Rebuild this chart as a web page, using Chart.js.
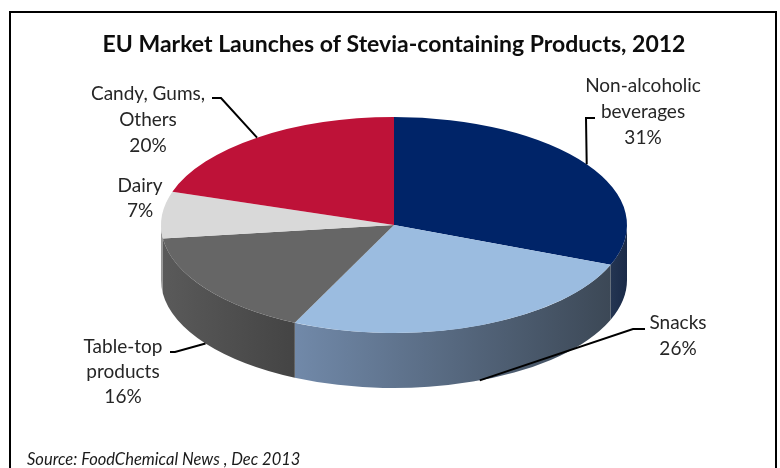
<!DOCTYPE html>
<html>
<head>
<meta charset="utf-8">
<script src="https://cdn.jsdelivr.net/npm/chart.js@4.4.1/dist/chart.umd.min.js"></script>
<style>
  body { margin: 0; background: #fff; }
  #frame { position: absolute; left: 9px; top: 11px; width: 764px; height: 480px; border: 2px solid #000; }
  #wrap { position: absolute; left: 0; top: 0; width: 780px; height: 468px; }
</style>
</head>
<body>
<div id="frame"></div>
<div id="wrap"><canvas id="pie"></canvas></div>
<script>
// data
const categories = ["Non-alcoholic beverages", "Snacks", "Table-top products", "Dairy", "Candy, Gums, Others"];
const shares = [31, 26, 16, 7, 20];
const labelLines = [["Non-alcoholic", "beverages"], ["Snacks"], ["Table-top", "products"], ["Dairy"], ["Candy, Gums,", "Others"]];

// colours of the top face and of the side wall (left, right)
const topColors = ["#002468", "#9bbce0", "#666666", "#d9d9d9", "#be1238"];
const sideColors = [["#243552", "#1a2a48"], ["#7189a9", "#3c4856"], ["#5a5a5a", "#444444"], ["#9a9a9a", "#8a8a8a"], ["#8c0d29", "#8c0d29"]];

// where the flattened pie sits on the page
const geo = { cx: 394, cy: 225, rx: 233, ry: 108, depth: 55 };

// label layout: text centre x, baselines, leader line (elbow, end), edge = 'top' or 'bottom'
const labelLayout = [
  { x: 643, y: [92, 118, 144], elbow: [586, 118], end: [595, 118], edge: "top" },
  { x: 678, y: [329, 355], elbow: [633, 329], end: [645, 329], edge: "bottom" },
  { x: 123, y: [353, 378, 403], elbow: [175, 352], end: [170, 352], edge: "bottom" },
  { x: 140, y: [192, 217], elbow: null },
  { x: 148, y: [100, 126, 152], elbow: [221, 98], end: [212, 98], edge: "top" }
];

const FONT = "Lato, 'Liberation Sans', sans-serif";

const pie3d = {
  id: "pie3d",
  beforeDatasetsDraw(chart) {
    const ctx = chart.ctx;
    const arcs = chart.getDatasetMeta(0).data;
    const { cx, cy, rx, ry, depth } = geo;
    // side wall, only the front half can be seen
    arcs.forEach((arc, i) => {
      const s = Math.max(arc.startAngle, 0);
      const e = Math.min(arc.endAngle, Math.PI);
      if (e <= s) return;
      const x0 = cx + rx * Math.cos(e), x1 = cx + rx * Math.cos(s);
      const g = ctx.createLinearGradient(Math.min(x0, x1), 0, Math.max(x0, x1), 0);
      g.addColorStop(0, sideColors[i][0]);
      g.addColorStop(1, sideColors[i][1]);
      ctx.save();
      ctx.beginPath();
      ctx.ellipse(cx, cy, rx, ry, 0, s, e);
      ctx.ellipse(cx, cy + depth, rx, ry, 0, e, s, true);
      ctx.closePath();
      ctx.fillStyle = g;
      ctx.fill();
      ctx.restore();
    });
    // squash the round pie into the top face
    const a = arcs[0];
    ctx.save();
    ctx.translate(cx, cy);
    ctx.scale(rx / a.outerRadius, ry / a.outerRadius);
    ctx.translate(-a.x, -a.y);
  },
  afterDatasetsDraw(chart) {
    chart.ctx.restore();
  },
  afterDraw(chart) {
    const ctx = chart.ctx;
    const arcs = chart.getDatasetMeta(0).data;
    const { cx, cy, rx, ry, depth } = geo;
    ctx.save();
    // leader lines
    ctx.strokeStyle = "#000";
    ctx.lineWidth = 2;
    arcs.forEach((arc, i) => {
      const L = labelLayout[i];
      if (!L.elbow) return;
      const mid = (arc.startAngle + arc.endAngle) / 2;
      const px = cx + rx * Math.cos(mid);
      const py = cy + ry * Math.sin(mid) + (L.edge === "bottom" ? depth : 0);
      ctx.beginPath();
      ctx.moveTo(px, py);
      ctx.lineTo(L.elbow[0], L.elbow[1]);
      ctx.lineTo(L.end[0], L.end[1]);
      ctx.stroke();
    });
    // label text
    ctx.fillStyle = "#262626";
    ctx.font = "19px " + FONT;
    ctx.textAlign = "center";
    ctx.textBaseline = "alphabetic";
    chart.data.labels.forEach((lab, i) => {
      const L = labelLayout[i];
      const lines = labelLines[i].concat([shares[i] + "%"]);
      lines.forEach((t, k) => ctx.fillText(t, L.x, L.y[k]));
    });
    // source note
    ctx.textAlign = "left";
    ctx.font = "italic 16.5px " + FONT;
    ctx.fillStyle = "#1a1a1a";
    ctx.fillText("Source: FoodChemical News , Dec 2013", 27, 465);
    ctx.restore();
  }
};

const data = {
  labels: categories,
  datasets: [{
    data: shares,
    backgroundColor: topColors,
    borderWidth: 0,
    clip: false
  }]
};

const config = {
  type: "pie",
  data,
  options: {
    responsive: true,
    maintainAspectRatio: false,
    animation: false,
    layout: { padding: { left: 8, top: 0, right: 0, bottom: 20 } },
    plugins: {
      legend: { display: false },
      tooltip: { enabled: false },
      title: {
        display: true,
        text: "EU Market Launches of Stevia-containing Products, 2012",
        color: "#0d0d0d",
        font: { family: FONT, size: 23, weight: "bold" },
        padding: { top: 31, bottom: 10 }
      }
    }
  },
  plugins: [pie3d]
};

const canvas = document.getElementById("pie");
const pieChart = new Chart(canvas, config);
</script>
</body>
</html>
